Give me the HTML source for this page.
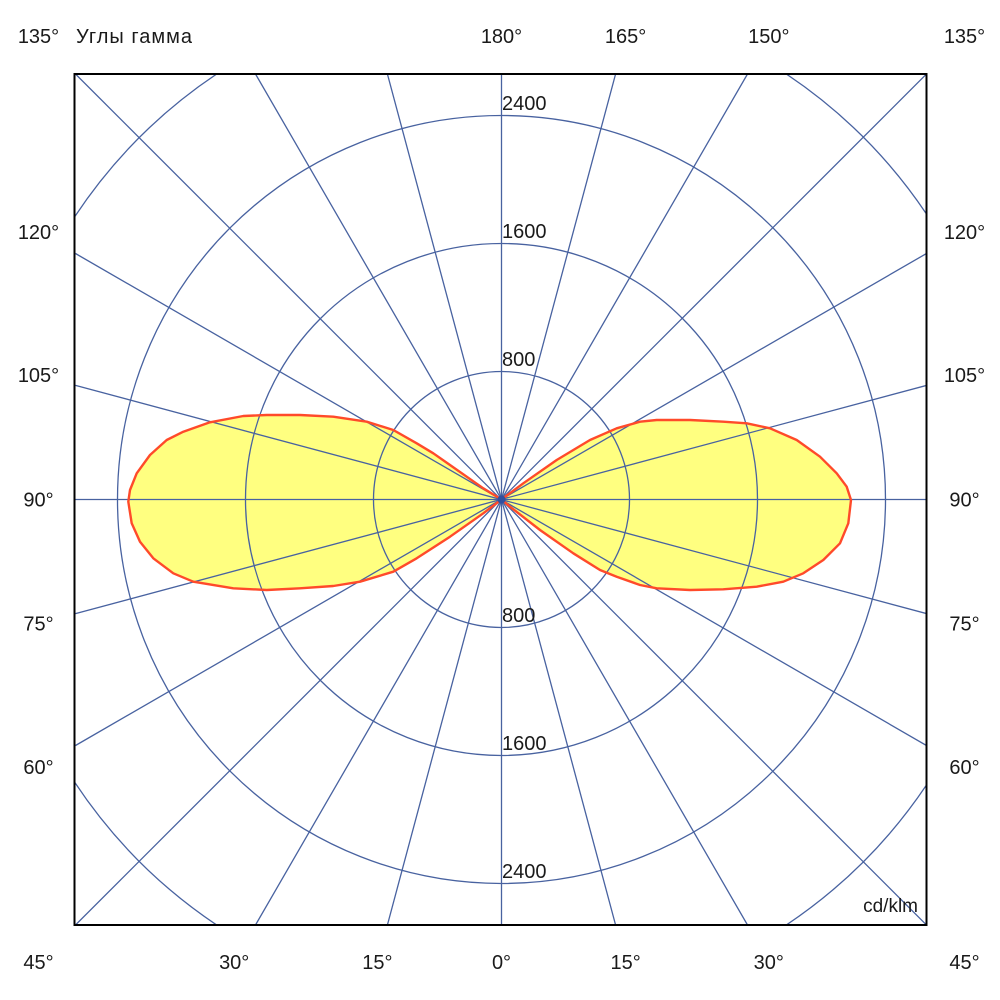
<!DOCTYPE html>
<html>
<head>
<meta charset="utf-8">
<style>
html,body{margin:0;padding:0;background:#fff;width:1000px;height:1000px;overflow:hidden;}
svg{display:block;}
text{font-family:"Liberation Sans","DejaVu Sans",sans-serif;font-size:20px;fill:#1a1a1a;}
</style>
</head>
<body>
<svg width="1000" height="1000" viewBox="0 0 1000 1000" xmlns="http://www.w3.org/2000/svg">
<defs>
<clipPath id="box"><rect x="74.5" y="74" width="852" height="851"/></clipPath>
</defs>
<rect x="0" y="0" width="1000" height="1000" fill="#fff"/>
<g clip-path="url(#box)">
  <polygon fill="#ffff80" stroke="none" points="501.5,499.5 483.3,488.3 450,465 433.3,453.3 416.7,443.3 393.3,430 366.7,421.7 333.3,416.7 300,415 266.7,415 243.3,416 210,422.3 183.3,431.7 166.7,440 150,455 136.7,473.3 130,490 128.3,501.7 131.7,523.3 140,541.7 153.3,558.3 173.3,573.3 193.3,581.7 233.3,588.3 266.7,590 300,588.3 333.3,586 360,581.7 393.3,571.7 416.7,558.3 450,536.7 483.3,513.3"/>
  <polygon fill="#ffff80" stroke="none" points="501.5,499.5 523.3,483.3 556.7,460 590,440 616.7,428.3 640,421.7 656.7,420 690,420 723.3,421.7 746.7,423.3 770,428.3 796.7,440 820,456.7 836.7,473.3 846.7,486.7 851,500 848.3,523.3 840,543.3 823.3,560 803.3,573.3 783.3,581.7 756.7,586.7 723.3,589.3 690,590 656.7,588.3 640,585 616.7,576.7 600,570 573.3,553.3 540,530 510,506.7"/>
  <g stroke="#4862a0" stroke-width="1.3" fill="none">
    <circle cx="501.5" cy="499.5" r="128"/>
    <circle cx="501.5" cy="499.5" r="256"/>
    <circle cx="501.5" cy="499.5" r="384"/>
    <path d="M74.5,217 A512,512 0 0 1 216.7,74 M786.3,74 A512,512 0 0 1 926.5,214 M926.5,785 A512,512 0 0 1 786.3,925 M216.7,925 A512,512 0 0 1 74.5,782"/>
    <line x1="501.5" y1="74" x2="501.5" y2="925"/>
    <line x1="615.6" y1="74" x2="387.4" y2="925"/>
    <line x1="747.5" y1="74" x2="255.5" y2="925"/>
    <line x1="926.5" y1="74" x2="75.5" y2="925"/>
    <line x1="926.5" y1="253.5" x2="75.5" y2="745.5"/>
    <line x1="926.5" y1="385.4" x2="75.5" y2="613.6"/>
    <line x1="74.5" y1="499.5" x2="926.5" y2="499.5"/>
    <line x1="926.5" y1="613.6" x2="75.5" y2="385.4"/>
    <line x1="926.5" y1="745.5" x2="75.5" y2="253.5"/>
    <line x1="926.5" y1="925" x2="75.5" y2="74"/>
    <line x1="747.5" y1="925" x2="255.5" y2="74"/>
    <line x1="615.6" y1="925" x2="387.4" y2="74"/>
  </g>
  <polygon fill="none" stroke="#ff4a2a" stroke-width="2.4" stroke-linejoin="round" points="501.5,499.5 483.3,488.3 450,465 433.3,453.3 416.7,443.3 393.3,430 366.7,421.7 333.3,416.7 300,415 266.7,415 243.3,416 210,422.3 183.3,431.7 166.7,440 150,455 136.7,473.3 130,490 128.3,501.7 131.7,523.3 140,541.7 153.3,558.3 173.3,573.3 193.3,581.7 233.3,588.3 266.7,590 300,588.3 333.3,586 360,581.7 393.3,571.7 416.7,558.3 450,536.7 483.3,513.3"/>
  <polygon fill="none" stroke="#ff4a2a" stroke-width="2.4" stroke-linejoin="round" points="501.5,499.5 523.3,483.3 556.7,460 590,440 616.7,428.3 640,421.7 656.7,420 690,420 723.3,421.7 746.7,423.3 770,428.3 796.7,440 820,456.7 836.7,473.3 846.7,486.7 851,500 848.3,523.3 840,543.3 823.3,560 803.3,573.3 783.3,581.7 756.7,586.7 723.3,589.3 690,590 656.7,588.3 640,585 616.7,576.7 600,570 573.3,553.3 540,530 510,506.7"/>
  <circle cx="501.5" cy="499.5" r="4" fill="#3050a0"/>
</g>
<rect x="74.5" y="74" width="852" height="851" fill="none" stroke="#000" stroke-width="2"/>

<text x="502" y="110">2400</text>
<text x="502" y="238">1600</text>
<text x="502" y="366">800</text>
<text x="502" y="622">800</text>
<text x="502" y="750">1600</text>
<text x="502" y="878">2400</text>

<text x="38.5" y="43" text-anchor="middle">135°</text>
<text x="76" y="43" textLength="116" lengthAdjust="spacing">Углы гамма</text>
<text x="501.5" y="43" text-anchor="middle">180°</text>
<text x="625.6" y="43" text-anchor="middle">165°</text>
<text x="768.8" y="43" text-anchor="middle">150°</text>
<text x="964.5" y="43" text-anchor="middle">135°</text>

<text x="38.5" y="969" text-anchor="middle">45°</text>
<text x="234.2" y="969" text-anchor="middle">30°</text>
<text x="377.4" y="969" text-anchor="middle">15°</text>
<text x="501.5" y="969" text-anchor="middle">0°</text>
<text x="625.6" y="969" text-anchor="middle">15°</text>
<text x="768.8" y="969" text-anchor="middle">30°</text>
<text x="964.5" y="969" text-anchor="middle">45°</text>

<text x="38.5" y="239" text-anchor="middle">120°</text>
<text x="38.5" y="382" text-anchor="middle">105°</text>
<text x="38.5" y="506.5" text-anchor="middle">90°</text>
<text x="38.5" y="630.6" text-anchor="middle">75°</text>
<text x="38.5" y="773.8" text-anchor="middle">60°</text>

<text x="964.5" y="239" text-anchor="middle">120°</text>
<text x="964.5" y="382" text-anchor="middle">105°</text>
<text x="964.5" y="506.5" text-anchor="middle">90°</text>
<text x="964.5" y="630.6" text-anchor="middle">75°</text>
<text x="964.5" y="773.8" text-anchor="middle">60°</text>

<text x="918" y="912" text-anchor="end" style="font-size:19px">cd/klm</text>
</svg>
</body>
</html>
